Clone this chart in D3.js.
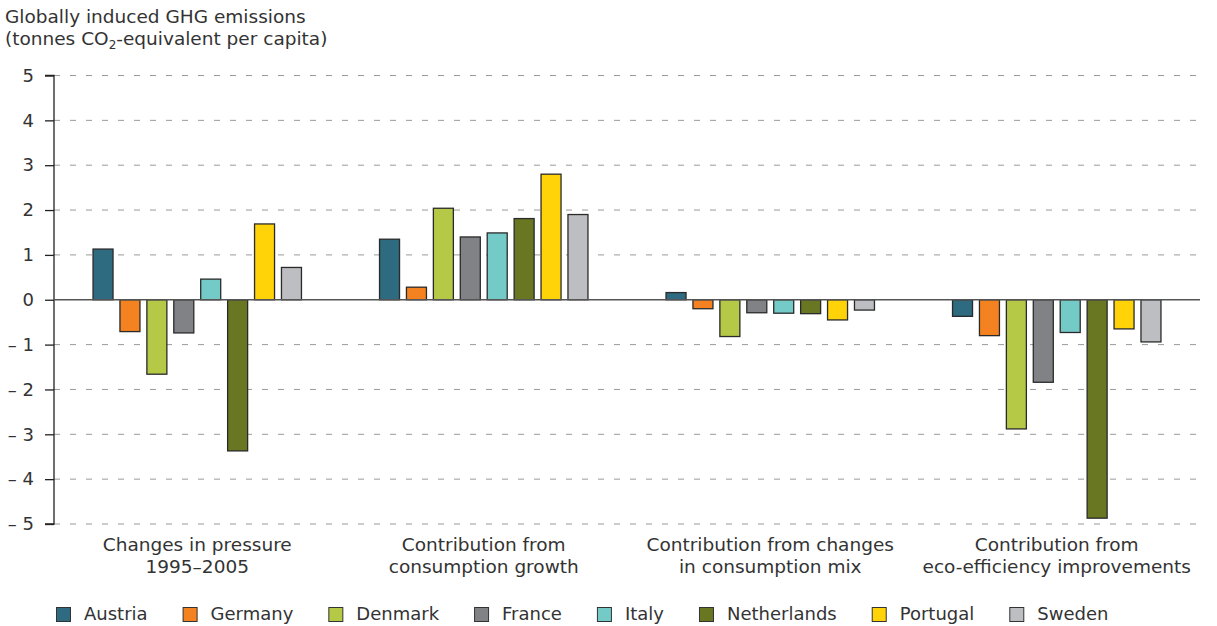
<!DOCTYPE html>
<html>
<head>
<meta charset="utf-8">
<script src="https://cdn.jsdelivr.net/npm/d3@7"></script>
<style>
  html, body { margin: 0; padding: 0; background: #fff; }
  svg { display: block; font-family: "DejaVu Sans", Verdana, sans-serif; }
</style>
</head>
<body>
<svg id="chart" width="1217" height="626"></svg>
<script>
// ---- Data ----
const groups = [
  ["Changes in pressure", "1995\u20132005"],
  ["Contribution from", "consumption growth"],
  ["Contribution from changes", "in consumption mix"],
  ["Contribution from", "eco-efficiency improvements"]
];
const countries = ["Austria", "Germany", "Denmark", "France", "Italy", "Netherlands", "Portugal", "Sweden"];
const colors = ["#2e6b80", "#f58220", "#b5c947", "#808285", "#74cac7", "#697722", "#ffd308", "#bcbec1"];
const austria     = [1.13, 1.35, 0.16, -0.37];
const germany     = [-0.71, 0.28, -0.20, -0.80];
const denmark     = [-1.66, 2.04, -0.82, -2.88];
const france      = [-0.74, 1.40, -0.29, -1.84];
const italy       = [0.46, 1.49, -0.30, -0.73];
const netherlands = [-3.37, 1.81, -0.31, -4.87];
const portugal    = [1.69, 2.80, -0.45, -0.65];
const sweden      = [0.72, 1.90, -0.23, -0.94];
const yTicks = [5, 4, 3, 2, 1, 0, -1, -2, -3, -4, -5];

const series = [austria, germany, denmark, france, italy, netherlands, portugal, sweden];

// ---- Layout ----
const svg = d3.select("#chart");
const mLeft = 54, mRight = 1200, mTop = 75.5, mBottom = 524;
const textColor = "#333";
const fs = 18.5;

const x0 = d3.scaleBand().domain(d3.range(groups.length)).range([mLeft, mRight]).padding(0);
const x1 = d3.scaleBand().domain(countries).range([0, x0.bandwidth()]).paddingInner(0.257).paddingOuter(1.45);
const y = d3.scaleLinear().domain([-5, 5]).range([mBottom, mTop]);

// Title
const title = svg.append("text").attr("font-size", fs).attr("fill", textColor);
title.append("tspan").attr("x", 5).attr("y", 23).text("Globally induced GHG emissions");
title.append("tspan").attr("x", 5).attr("y", 45).text("(tonnes CO");
title.append("tspan").attr("font-size", 12).attr("dy", 4).text("2");
title.append("tspan").attr("dy", -4).text("-equivalent per capita)");

// Gridlines
svg.append("g").selectAll("line").data(yTicks.filter(d => d !== 0)).join("line")
  .attr("x1", mLeft).attr("x2", mRight)
  .attr("y1", d => y(d)).attr("y2", d => y(d))
  .attr("stroke", "#9a9a9a").attr("stroke-width", 1)
  .attr("stroke-dasharray", "6,10");

// Y axis
const yAxis = d3.axisLeft(y).tickValues(yTicks).tickSize(9).tickPadding(11)
  .tickFormat(d => d < 0 ? "\u2013 " + Math.abs(d) : String(d));
const gy = svg.append("g").attr("transform", `translate(${mLeft},0)`).call(yAxis);
gy.select(".domain").attr("stroke", "#222").attr("stroke-width", 1.3).attr("d", `M-9,${mTop}H0V${mBottom}H-9`);
gy.selectAll(".tick line").attr("stroke", "#222").attr("stroke-width", 1.3);
gy.selectAll(".tick text").attr("font-size", 18).attr("fill", textColor)
  .attr("font-family", "DejaVu Sans, Verdana, sans-serif");

// Bars
const gGroups = svg.append("g").selectAll("g").data(groups).join("g")
  .attr("transform", (d, i) => `translate(${x0(i)},0)`);
gGroups.selectAll("rect")
  .data((d, gi) => countries.map((c, ci) => ({ c, ci, v: series[ci][gi] })))
  .join("rect")
  .attr("x", d => x1(d.c))
  .attr("width", x1.bandwidth())
  .attr("y", d => y(Math.max(0, d.v)))
  .attr("height", d => Math.abs(y(d.v) - y(0)))
  .attr("fill", d => colors[d.ci])
  .attr("stroke", "#2a2a2a").attr("stroke-width", 1.3);

// Zero line
svg.append("line").attr("x1", mLeft).attr("x2", mRight)
  .attr("y1", y(0)).attr("y2", y(0))
  .attr("stroke", "#555").attr("stroke-width", 1.6);

// Category labels
const cl = svg.append("g").selectAll("text").data(groups).join("text")
  .attr("text-anchor", "middle").attr("font-size", fs).attr("fill", textColor);
cl.each(function(d, i) {
  const t = d3.select(this);
  const cx = x0(i) + x0.bandwidth() / 2;
  t.append("tspan").attr("x", cx).attr("y", 551).text(d[0]);
  t.append("tspan").attr("x", cx).attr("y", 573).text(d[1]);
});

// Legend
const legend = svg.append("g");
let lx = 56;
countries.forEach((c, i) => {
  legend.append("rect").attr("x", lx + 0.5).attr("y", 607.5).attr("width", 14).attr("height", 14)
    .attr("fill", colors[i]).attr("stroke", "#333").attr("stroke-width", 1);
  const t = legend.append("text").attr("x", lx + 28).attr("y", 619.5)
    .attr("font-size", 18).attr("fill", textColor).text(c);
  lx += 28 + t.node().getComputedTextLength() + 35;
});
</script>
</body>
</html>
